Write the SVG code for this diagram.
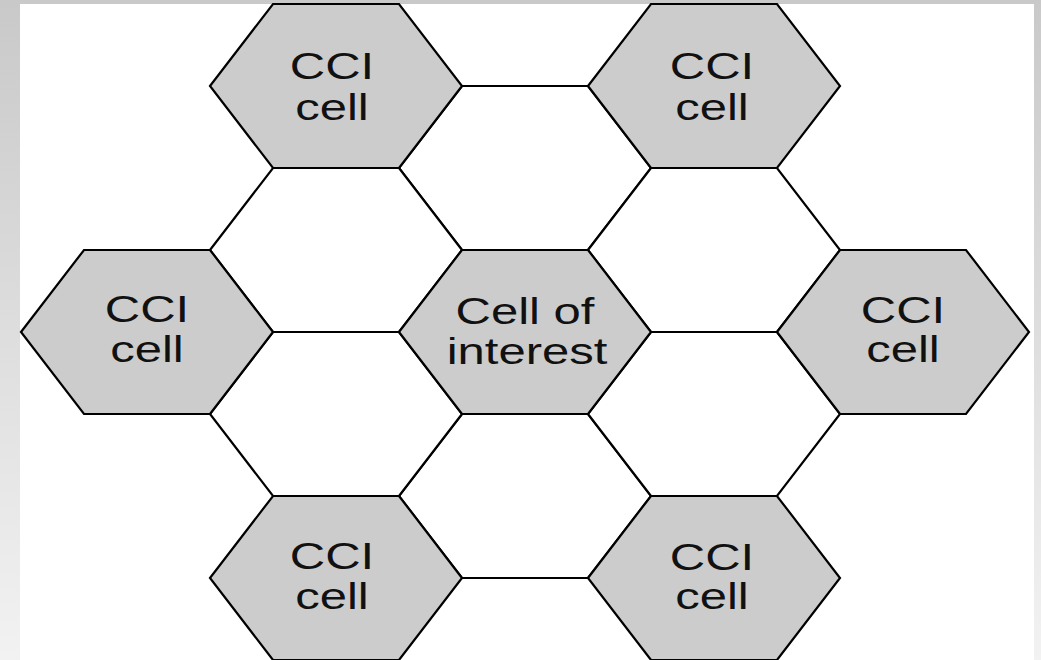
<svg xmlns="http://www.w3.org/2000/svg" xmlns:xlink="http://www.w3.org/1999/xlink" width="1041" height="660" viewBox="0 0 1041 660">
  <style>
    .hex { stroke: #000; stroke-width: 2.2; stroke-linejoin: miter; }
    .cci { fill: #cccccc; }
    .empty { fill: #ffffff; }
    .lbl { font-family: "Liberation Sans", Arial, sans-serif; font-size: 49px; fill: #111; text-anchor: middle; }
  </style>
  <defs>
    <linearGradient id="bg" x1="0" y1="0" x2="0" y2="1">
      <stop offset="0" stop-color="#c9c9c9"/>
      <stop offset="1" stop-color="#f2f2f2"/>
    </linearGradient>
    <polygon id="hx" points="-126,0 -63,-82 63,-82 126,0 63,82 -63,82"/>
  </defs>

  <rect x="0" y="0" width="1041" height="660" fill="url(#bg)"/>
  <rect x="20" y="4" width="1014" height="656" fill="#ffffff"/>

  <g id="connectors">
    <use xlink:href="#hx" class="hex empty" x="525" y="168"/>
    <use xlink:href="#hx" class="hex empty" x="525" y="496"/>
    <use xlink:href="#hx" class="hex empty" x="336" y="250"/>
    <use xlink:href="#hx" class="hex empty" x="336" y="414"/>
    <use xlink:href="#hx" class="hex empty" x="714" y="250"/>
    <use xlink:href="#hx" class="hex empty" x="714" y="414"/>
  </g>

  <g id="cci-top-left">
    <use xlink:href="#hx" class="hex cci" x="336" y="86"/>
    <text class="lbl" transform="translate(332,79) scale(1,0.76)">CCI</text>
    <text class="lbl" transform="translate(332,120) scale(1,0.76)">cell</text>
  </g>
  <g id="cci-top-right">
    <use xlink:href="#hx" class="hex cci" x="714" y="86"/>
    <text class="lbl" transform="translate(712,79) scale(1,0.76)">CCI</text>
    <text class="lbl" transform="translate(712,120) scale(1,0.76)">cell</text>
  </g>
  <g id="cci-mid-left">
    <use xlink:href="#hx" class="hex cci" x="147" y="332"/>
    <text class="lbl" transform="translate(147,322) scale(1,0.76)">CCI</text>
    <text class="lbl" transform="translate(147,362) scale(1,0.76)">cell</text>
  </g>
  <g id="cell-of-interest">
    <use xlink:href="#hx" class="hex cci" x="525" y="332"/>
    <text class="lbl" transform="translate(525,324) scale(1,0.76)">Cell of</text>
    <text class="lbl" transform="translate(527,364) scale(1,0.76)">interest</text>
  </g>
  <g id="cci-mid-right">
    <use xlink:href="#hx" class="hex cci" x="903" y="332"/>
    <text class="lbl" transform="translate(903,323) scale(1,0.76)">CCI</text>
    <text class="lbl" transform="translate(903,362) scale(1,0.76)">cell</text>
  </g>
  <g id="cci-bottom-left">
    <use xlink:href="#hx" class="hex cci" x="336" y="578"/>
    <text class="lbl" transform="translate(332,569) scale(1,0.76)">CCI</text>
    <text class="lbl" transform="translate(332,609) scale(1,0.76)">cell</text>
  </g>
  <g id="cci-bottom-right">
    <use xlink:href="#hx" class="hex cci" x="714" y="578"/>
    <text class="lbl" transform="translate(712,570) scale(1,0.76)">CCI</text>
    <text class="lbl" transform="translate(712,609) scale(1,0.76)">cell</text>
  </g>
</svg>
